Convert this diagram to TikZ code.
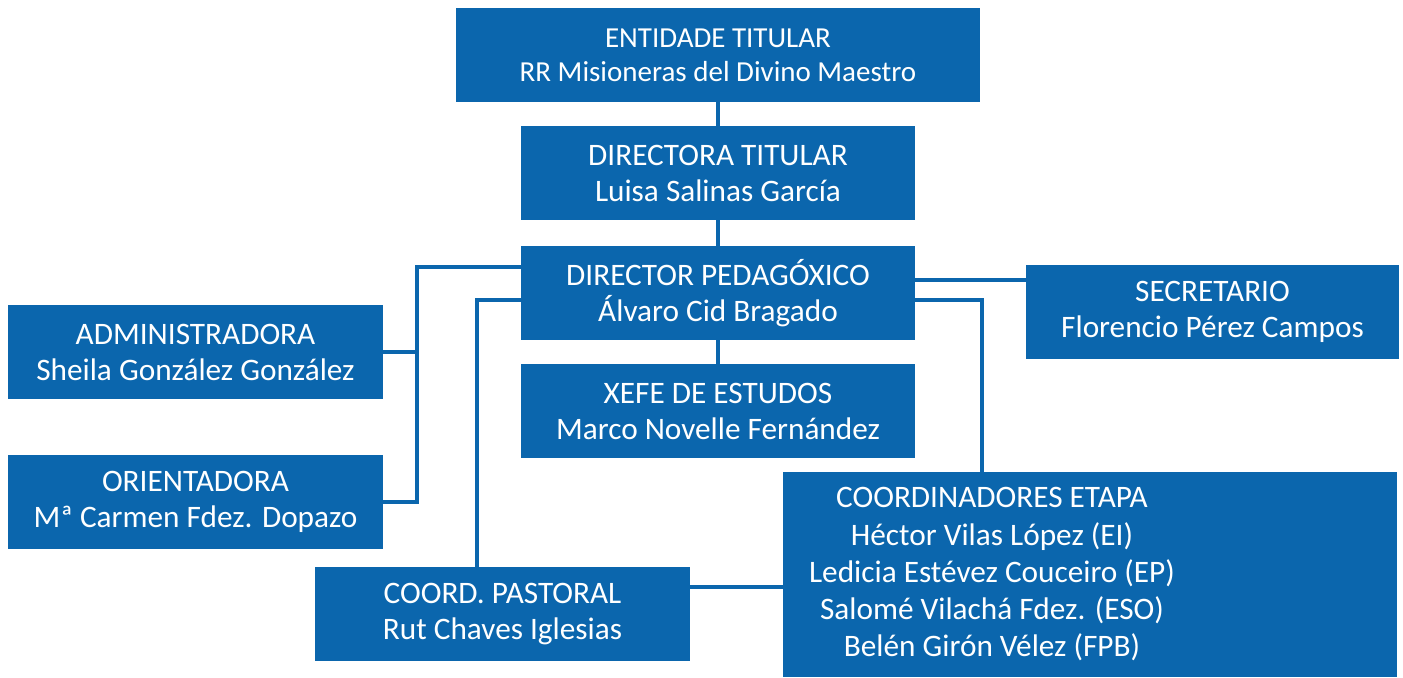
\documentclass[tikz,border=0pt]{standalone}
\usepackage{fontspec}
\setmainfont{Carlito}
\usetikzlibrary{positioning}
\definecolor{orgblue}{RGB}{11,102,173}

\begin{document}
\begin{tikzpicture}[
  x=0.02cm, y=-0.02cm,
  box/.style={fill=orgblue, text=white, align=center, inner sep=0pt,
    minimum height=1.88cm, font=\fontsize{17.8}{20.5}\selectfont},
  link/.style={draw=orgblue, line width=2.8pt}
]
  \useasboundingbox (0,0) rectangle (1403,677);
  % junction points of the links
  \coordinate (jl) at (417,267);
  \coordinate (jp) at (477,300);
  \coordinate (jc) at (982,300);
  \coordinate (js) at (970,280);
  \coordinate (jpc) at (737,587);

  \node[box, minimum width=10.5cm, font=\fontsize{16.5}{19.5}\selectfont] (ent) at (718,55)
    {ENTIDADE TITULAR\\RR Misioneras del Divino Maestro};
  \node[box, minimum width=7.88cm] (dtit) at (718,173)
    {DIRECTORA TITULAR\\Luisa Salinas García};
  \node[box, minimum width=7.88cm] (dped) at (718,293)
    {DIRECTOR PEDAGÓXICO\\Álvaro Cid Bragado};
  \node[box, minimum width=7.88cm] (xefe) at (718,411)
    {XEFE DE ESTUDOS\\Marco Novelle Fernández};
  \node[box, minimum width=7.46cm] (sec) at (1212.5,312)
    {SECRETARIO\\Florencio Pérez Campos};
  \node[box, minimum width=7.5cm] (adm) at (195.5,352)
    {ADMINISTRADORA\\Sheila González González};
  \node[box, minimum width=7.5cm] (ori) at (195.5,502)
    {ORIENTADORA\\Mª Carmen Fdez. Dopazo};
  \node[box, minimum width=7.5cm] (past) at (502.5,614)
    {COORD. PASTORAL\\Rut Chaves Iglesias};
  \node[box, minimum width=12.28cm, minimum height=4.1cm] (coord) at (1090,574.5) {};
  \node[box, fill=none, minimum height=0pt, font=\fontsize{17.8}{21.2}\selectfont] (coordtxt) at (992,574.5)
    {COORDINADORES ETAPA\\Héctor Vilas López (EI)\\Ledicia Estévez Couceiro (EP)\\
     Salomé Vilachá Fdez. (ESO)\\Belén Girón Vélez (FPB)};

  \draw[link] (ent) -- (dtit);
  \draw[link] (dtit) -- (dped);
  \draw[link] (dped) -- (xefe);
  \draw[link] (dped.east |- js) -- (sec.west |- js);
  \draw[link] (dped.west |- jl) -- (jl) |- (ori.east);
  \draw[link] (jl |- adm.east) -- (adm.east);
  \draw[link] (dped.west |- jp) -- (jp) -- (jp |- past.north);
  \draw[link] (dped.east |- jc) -- (jc) -- (jc |- coord.north);
  \draw[link] (past.east |- jpc) -- (coord.west |- jpc);
\end{tikzpicture}
\end{document}
